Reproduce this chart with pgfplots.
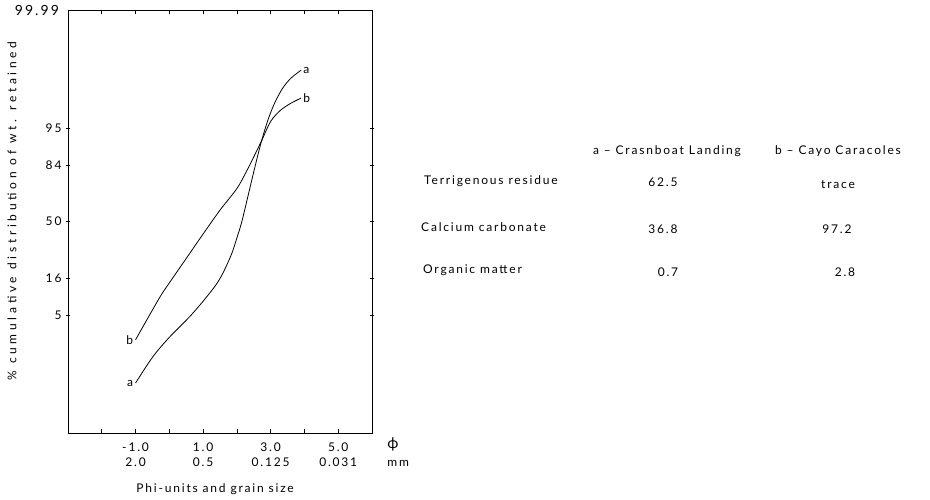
\documentclass[border=0pt]{standalone}
\usepackage{pgfplots}
\pgfplotsset{compat=1.18}
\usepackage{fontspec}
\setmainfont{Lato}[LetterSpace=15]
\newcommand\lbl{\fontsize{12}{17}\selectfont}
\begin{document}
\begin{tikzpicture}[x=1pt,y=1pt]
\useasboundingbox (0,0) rectangle (930,499);
% cumulative curves on a probability scale (y = normal score of the percentage)
\begin{axis}[
  at={(68pt,66pt)}, anchor=south west,
  scale only axis, width=304pt, height=423pt,
  xmin=-3, xmax=6,
  ymin=-3.719, ymax=3.719,
  axis line style={line width=0.8pt},
  tick style={line width=0.7pt, black},
  major tick length=4pt,
  xtick align=inside,
  ytick align=center,
  xtick={-2,-1,0,1,2,3,4,5},
  xticklabels={,{-1.0\\2.0},,{1.0\\0.5},,{3.0\\0.125},,{5.0\\0.031}},
  xticklabel style={align=center, font=\fontsize{12}{15}\selectfont, yshift=-6pt},
  ytick={-1.6449,-0.9945,0,0.9945,1.6449},
  yticklabels={5,16,50,84,95},
  ytick pos=both, yticklabel pos=left,
  yticklabel style={font=\lbl, xshift=-1pt},
  /pgf/number format/assume math mode=true,
  xlabel={Phi-units and grain size},
  xlabel style={at={(axis description cs:0.484,-0.132)}, anchor=center, font=\lbl},
  ylabel={\% cumulative distribution of wt. retained},
  ylabel style={at={(axis description cs:-0.184,0.525)}, anchor=center, font=\lbl\addfontfeatures{LetterSpace=31}},
  clip=false,
  every axis plot/.append style={line width=0.8pt, black},
]
% a - Crasnboat Landing
\addplot[smooth, tension=0.5] coordinates {
  (-1.00,-2.84) (-0.49,-2.38) (0.01,-2.03) (0.70,-1.61) (1.42,-1.08)
  (1.81,-0.62) (2.01,-0.27) (2.16,0.03) (2.49,0.85) (2.70,1.35)
  (2.90,1.75) (3.10,2.06) (3.35,2.34) (3.60,2.52) (3.90,2.66)
} node[pos=0, left, font=\lbl, inner sep=2pt] {a}
  node[pos=1, right, font=\lbl, inner sep=2pt] {a};
% b - Cayo Caracoles
\addplot[smooth, tension=0.5] coordinates {
  (-1.00,-2.08) (-0.30,-1.35) (0.00,-1.08) (0.50,-0.65) (1.00,-0.22)
  (1.50,0.20) (2.00,0.58) (2.30,0.90) (2.70,1.38) (3.00,1.76)
  (3.30,1.96) (3.60,2.08) (3.90,2.17)
} node[pos=0, left, font=\lbl, inner sep=2pt] {b}
  node[pos=1, right, font=\lbl, inner sep=2pt] {b};
% top of the probability scale
\node[font=\fontsize{14}{16}\selectfont, anchor=east] at (axis description cs:-0.018,1) {99.99};
\node[font=\fontsize{15}{16}\selectfont] at (axis description cs:1.069,-0.026) {ϕ};
\node[font=\lbl] at (axis description cs:1.086,-0.071) {mm};
\end{axis}
% composition table
\begin{scope}[every node/.style={font=\lbl, inner sep=0pt}]
\node at (667,348) {a -- Crasnboat Landing};
\node at (838,348) {b -- Cayo Caracoles};
\node[anchor=west] at (424,318) {Terrigenous residue};
\node[anchor=west] at (421,272) {Calcium carbonate};
\node[anchor=west] at (423,229) {Organic matter};
\node at (663,317) {62.5};
\node at (663,270) {36.8};
\node at (668,227) {0.7};
\node at (838,314) {trace};
\node at (837,270) {97.2};
\node at (845,227) {2.8};
\end{scope}
\end{tikzpicture}
\end{document}
